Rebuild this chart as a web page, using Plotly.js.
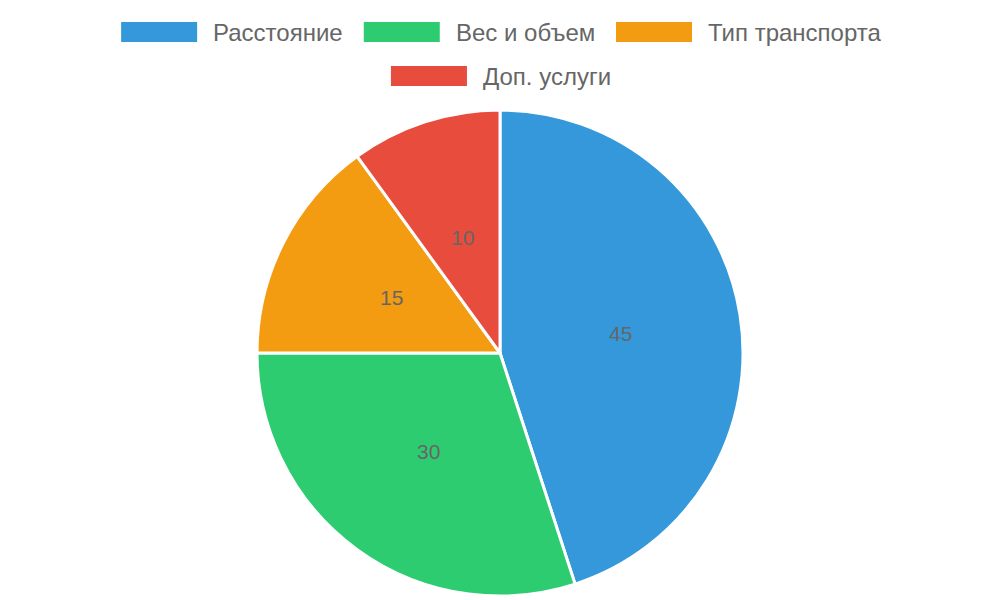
<!DOCTYPE html>
<html>
<head>
<meta charset="utf-8">
<script src="https://cdn.plot.ly/plotly-3.0.1.min.js"></script>
<style>
  html, body { margin: 0; padding: 0; background: #fff; }
  #chart { width: 1000px; height: 600px; }
</style>
</head>
<body>
<div id="chart"></div>
<script>
var labels = ['Расстояние', 'Вес и объем', 'Тип транспорта', 'Доп. услуги'];
var values = [45, 30, 15, 10];
var colors = ['#3498db', '#2ecc71', '#f39c12', '#e74c3c'];

var W = 1000, H = 600;
var fontFamily = '"Liberation Sans", Arial, sans-serif';
var legendSize = 24;
var labelSize = 21;

// pie area in pixels (top of pie at 110, bottom at 596)
var pieTop = 110, pieBottom = 596;
var cx = W / 2, cy = (pieTop + pieBottom) / 2, R = (pieBottom - pieTop) / 2;

// legend laid out like the original: wide boxes, rows centered at the top
function measure(txt) {
  var c = document.createElement('canvas').getContext('2d');
  c.font = legendSize + 'px "Liberation Sans"';
  return c.measureText(txt).width;
}

var boxW = 76, boxH = 20, gap = 14, pad = 23, rowH = 44, firstRow = 32;
var rows = [[]], rowW = [0];
labels.forEach(function (lab, i) {
  var w = boxW + gap + measure(lab);
  var r = rows.length - 1;
  var add = rows[r].length ? pad + w : w;
  if (rowW[r] + add > W - 40) {
    rows.push([]); rowW.push(0); r++;
    add = w;
  }
  rows[r].push({ i: i, w: w });
  rowW[r] += add;
});

var shapes = [], annotations = [];
rows.forEach(function (row, r) {
  var x = (W - rowW[r]) / 2;
  var ry = firstRow + r * rowH;
  row.forEach(function (it) {
    shapes.push({
      type: 'rect', xref: 'paper', yref: 'paper',
      x0: x / W, x1: (x + boxW) / W,
      y0: 1 - (ry + boxH / 2) / H, y1: 1 - (ry - boxH / 2) / H,
      fillcolor: colors[it.i], line: { width: 0 }
    });
    annotations.push({
      xref: 'paper', yref: 'paper',
      x: (x + boxW + gap) / W, y: 1 - ry / H,
      xanchor: 'left', yanchor: 'middle',
      text: labels[it.i], showarrow: false,
      font: { family: fontFamily, size: legendSize, color: '#666666' }
    });
    x += it.w + pad;
  });
});

// value labels at half radius on each slice's middle angle
var total = values.reduce(function (a, b) { return a + b; }, 0);
var acc = 0;
values.forEach(function (v) {
  var mid = (acc + v / 2) / total * 2 * Math.PI;
  acc += v;
  var px = cx + 0.5 * R * Math.sin(mid);
  var py = cy - 0.5 * R * Math.cos(mid);
  annotations.push({
    xref: 'paper', yref: 'paper',
    x: px / W, y: 1 - py / H,
    xanchor: 'center', yanchor: 'middle',
    text: String(v), showarrow: false,
    font: { family: fontFamily, size: labelSize, color: '#666666' }
  });
});

var trace = {
  type: 'pie',
  labels: labels,
  values: values,
  sort: false,
  direction: 'clockwise',
  rotation: 0,
  marker: { colors: colors, line: { color: '#ffffff', width: 3 } },
  textinfo: 'none',
  hoverinfo: 'label+value',
  domain: { x: [0, 1], y: [1 - pieBottom / H, 1 - pieTop / H] },
  showlegend: false
};

var layout = {
  width: W,
  height: H,
  margin: { l: 0, r: 0, t: 0, b: 0 },
  paper_bgcolor: '#ffffff',
  showlegend: false,
  shapes: shapes,
  annotations: annotations,
  font: { family: fontFamily }
};

Plotly.newPlot('chart', [trace], layout, { displayModeBar: false, staticPlot: true });
</script>
</body>
</html>
